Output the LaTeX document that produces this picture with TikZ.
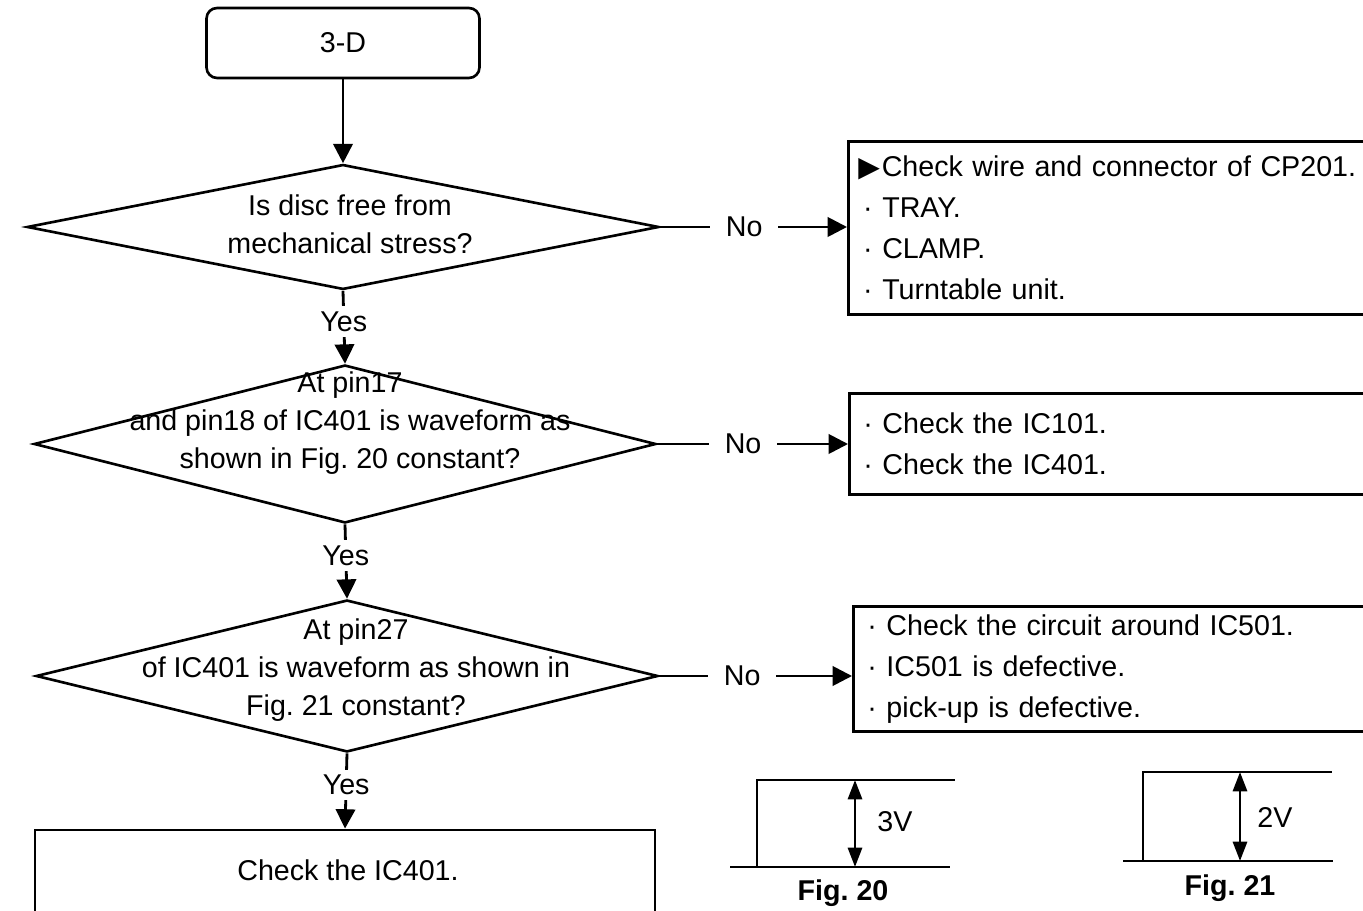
\documentclass[tikz,border=0pt]{standalone}
\usepackage{fontspec}
\setmainfont{Liberation Sans}
\newfontfamily\symfont{DejaVu Sans}
\usetikzlibrary{shapes.geometric,arrows.meta,positioning,calc}
\frenchspacing

\begin{document}
\begin{tikzpicture}[x=0.02cm, y=-0.02cm,
    every node/.style={font=\fontsize{16.3}{21.5}\selectfont},
    line/.style={line width=1.6pt},
    flow/.style={line width=1.6pt, -{Triangle[length=11pt,width=11pt]}},
    dim/.style={line width=1.6pt, {Triangle[length=11pt,width=8pt]}-{Triangle[length=11pt,width=8pt]}},
    decision/.style={diamond, draw, line width=1.5pt, inner sep=0pt},
    startbox/.style={draw, line width=1.5pt, rounded corners=6pt, minimum width=5.46cm, minimum height=1.4cm},
    checkbox/.style={draw, line width=1.6pt, align=left, anchor=north west, font=\fontsize{16.3}{23.2}\selectfont},
    tag/.style={fill=white, inner xsep=9pt, inner ysep=3pt},
    figlabel/.style={font=\fontsize{16.3}{20}\selectfont\bfseries}]
    \useasboundingbox (0,0) rectangle (1363,911);

    % Start
    \node[startbox] (start) at (343,43) {3-D};

    % Decisions
    \node[decision, minimum width=12.64cm, minimum height=2.5cm] (disc) at (343,227) {};
    \node[align=center] (disctext) at (350,224) {Is disc free from\\mechanical stress?};

    \node[decision, minimum width=12.44cm, minimum height=3.16cm] (pin17) at (345,444) {};
    \node[align=center] (pin17text) at (350,423) {At pin17\\and pin18 of IC401 is waveform as\\shown in Fig. 20 constant?};

    \node[decision, minimum width=12.44cm, minimum height=3.04cm] (pin27) at (347,676) {};
    \node[align=center] (pin27text) at (356,670) {At pin27\\of IC401 is waveform as shown in\\Fig. 21 constant?};

    % End box
    \node[draw, line width=1.6pt, minimum width=12.4cm, minimum height=1.76cm] (ic401) at (345,874) {};
    \node (ic401text) at (348,870) {Check the IC401.};

    % Check boxes on the right
    \node[checkbox, text width=10.16cm, inner xsep=0.2cm, minimum height=3.46cm] (wirebox) at (847,140)
        {{\symfont\fontsize{16}{16}\selectfont ▶}\kern1pt Check wire and connector of CP201.\\
         \,· TRAY.\\
         \,· CLAMP.\\
         \,· Turntable unit.};
    \node[checkbox, text width=9.98cm, inner xsep=0.28cm, minimum height=2.02cm] (icbox) at (848,392)
        {· Check the IC101.\\
         · Check the IC401.};
    \node[checkbox, text width=9.9cm, inner xsep=0.28cm, minimum height=2.5cm] (pickbox) at (852,605)
        {· Check the circuit around IC501.\\
         · IC501 is defective.\\
         · pick-up is defective.};

    % Connectors
    \draw[flow] (start.south) -- (disc.north);
    \draw[flow] (disc.south) -- node[tag, pos=0.42] (yes1) {Yes} (pin17.north);
    \draw[flow] (pin17.south) -- node[tag, pos=0.42] (yes2) {Yes} (pin27.north);
    \draw[flow] (pin27.south) -- node[tag, pos=0.42] (yes3) {Yes} (ic401.north);
    \draw[flow] (disc.east) -- node[tag, pos=0.45] (no1) {No} (disc.east -| wirebox.west);
    \draw[flow] (pin17.east) -- node[tag, pos=0.45] (no2) {No} (pin17.east -| icbox.west);
    \draw[flow] (pin27.east) -- node[tag, pos=0.43] (no3) {No} (pin27.east -| pickbox.west);

    % Fig. 20 waveform
    \draw[line] (730,867) -- (950,867);
    \draw[line] (757,867) -- (757,780) -- (955,780);
    \draw[dim] (855,780) -- (855,867);
    \node (threev) at (895,822) {3V};
    \node[figlabel] (fig20) at (843,893) {Fig. 20};

    % Fig. 21 waveform
    \draw[line] (1123,861) -- (1333,861);
    \draw[line] (1143,861) -- (1143,772) -- (1332,772);
    \draw[dim] (1240,772) -- (1240,861);
    \node (twov) at (1275,818) {2V};
    \node[figlabel] (fig21) at (1230,888) {Fig. 21};
\end{tikzpicture}
\end{document}
